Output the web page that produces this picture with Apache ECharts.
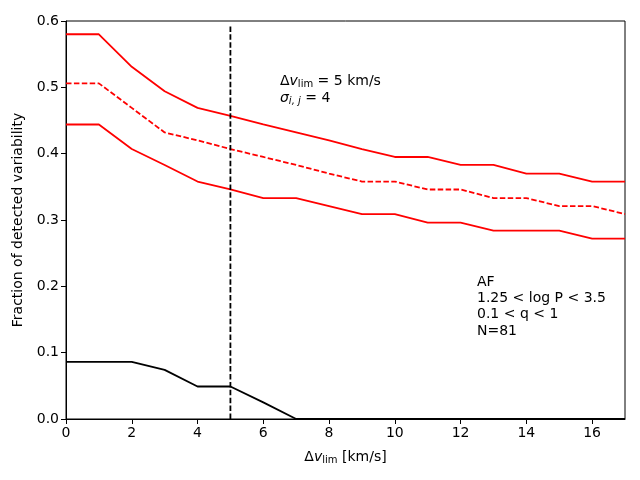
<!DOCTYPE html>
<html>
<head>
<meta charset="utf-8">
<script src="https://cdn.jsdelivr.net/npm/echarts@6/dist/echarts.min.js"></script>
<style>
  html, body { margin: 0; padding: 0; background: #fff; }
  #chart { width: 640px; height: 480px; }
</style>
</head>
<body>
<div id="chart"></div>
<script>
// detected fraction vs velocity threshold (N = 81)
let dvLim = [0, 1, 2, 3, 4, 5, 6, 7, 8, 9, 10, 11, 12, 13, 14, 15, 16, 17]
let upper = [0.580, 0.580, 0.531, 0.494, 0.469, 0.457, 0.444, 0.432, 0.420, 0.407, 0.395, 0.395, 0.383, 0.383, 0.370, 0.370, 0.358, 0.358]
let middle = [0.506, 0.506, 0.469, 0.432, 0.420, 0.407, 0.395, 0.383, 0.370, 0.358, 0.358, 0.346, 0.346, 0.333, 0.333, 0.321, 0.321, 0.309]
let lower = [0.444, 0.444, 0.407, 0.383, 0.358, 0.346, 0.333, 0.333, 0.321, 0.309, 0.309, 0.296, 0.296, 0.284, 0.284, 0.284, 0.272, 0.272]
let single = [0.086, 0.086, 0.086, 0.074, 0.049, 0.049, 0.025, 0, 0, 0, 0, 0, 0, 0, 0, 0, 0, 0]
let vline = [[5, 0], [5, 0.594]]
let xTicks = [0, 2, 4, 6, 8, 10, 12, 14, 16]

function pairs (ys) {
  return dvLim.map((x, i) => [x, ys[i]])
}

let font = 'DejaVu Sans'
let fs = 14
let dash = [5.5, 2.4]
let lw = 1.8

let option = {
  animation: false,
  grid: {
    left: 66,
    right: 15,
    top: 21,
    bottom: 61,
    show: true,
    borderColor: '#000',
    borderWidth: 1
  },
  xAxis: {
    type: 'value',
    min: 0,
    max: 17,
    interval: 2,
    name: '{d|Δ}{v|v}{s|lim} [km/s]',
    nameLocation: 'middle',
    nameGap: 30,
    nameTextStyle: {
      color: '#000',
      fontFamily: font,
      fontSize: fs,
      rich: {
        d: { fontFamily: font, fontSize: fs, color: '#000' },
        v: { fontFamily: font, fontSize: fs, fontStyle: 'italic', color: '#000' },
        s: { fontFamily: font, fontSize: 10, color: '#000', verticalAlign: 'bottom', padding: [6, 0, 0, 0] }
      }
    },
    splitLine: { show: false },
    axisLine: { lineStyle: { color: '#000' } },
    axisTick: { show: true, length: 5, customValues: xTicks, lineStyle: { color: '#000' } },
    axisLabel: { customValues: xTicks, color: '#000', fontFamily: font, fontSize: fs, margin: 7 }
  },
  yAxis: {
    type: 'value',
    min: 0,
    max: 0.6,
    interval: 0.1,
    name: 'Fraction of detected variability',
    nameLocation: 'middle',
    nameGap: 38,
    nameTextStyle: { color: '#000', fontFamily: font, fontSize: fs },
    splitLine: { show: false },
    axisLine: { show: true, lineStyle: { color: '#000' } },
    axisTick: { show: true, length: 5, lineStyle: { color: '#000' } },
    axisLabel: {
      color: '#000',
      fontFamily: font,
      fontSize: fs,
      margin: 7,
      formatter: v => v.toFixed(1)
    }
  },
  series: [
    {
      type: 'line',
      data: pairs(upper),
      symbol: 'none',
      lineStyle: { color: '#ff0000', width: lw }
    },
    {
      type: 'line',
      data: pairs(middle),
      symbol: 'none',
      lineStyle: { color: '#ff0000', width: lw, type: dash }
    },
    {
      type: 'line',
      data: pairs(lower),
      symbol: 'none',
      lineStyle: { color: '#ff0000', width: lw }
    },
    {
      type: 'line',
      data: pairs(single),
      symbol: 'none',
      lineStyle: { color: '#000', width: lw }
    },
    {
      type: 'line',
      data: vline,
      symbol: 'none',
      lineStyle: { color: '#000', width: lw, type: dash }
    }
  ],
  graphic: [
    {
      type: 'text',
      left: 280,
      top: 73,
      style: {
        text: '{d|Δ}{v|v}{s|lim}{t| = 5 km/s}\n{v|σ}{si|i, j}{t| = 4}',
        lineHeight: 17,
        rich: {
          d: { fontFamily: font, fontSize: fs, fill: '#000' },
          v: { fontFamily: font, fontSize: fs, fontStyle: 'italic', fill: '#000' },
          s: { fontFamily: font, fontSize: 10, fill: '#000', padding: [6, 0, 0, 0] },
          si: { fontFamily: font, fontSize: 10, fill: '#000', fontStyle: 'italic', padding: [6, 0, 0, 0] },
          t: { fontFamily: font, fontSize: fs, fill: '#000' }
        }
      }
    },
    {
      type: 'text',
      left: 477,
      top: 274,
      style: {
        text: 'AF\n1.25 < log P < 3.5\n0.1 < q < 1\nN=81',
        fontFamily: font,
        fontSize: fs,
        lineHeight: 16.3,
        fill: '#000'
      }
    }
  ]
}

let chart = echarts.init(document.getElementById('chart'))
chart.setOption(option)
</script>
</body>
</html>
